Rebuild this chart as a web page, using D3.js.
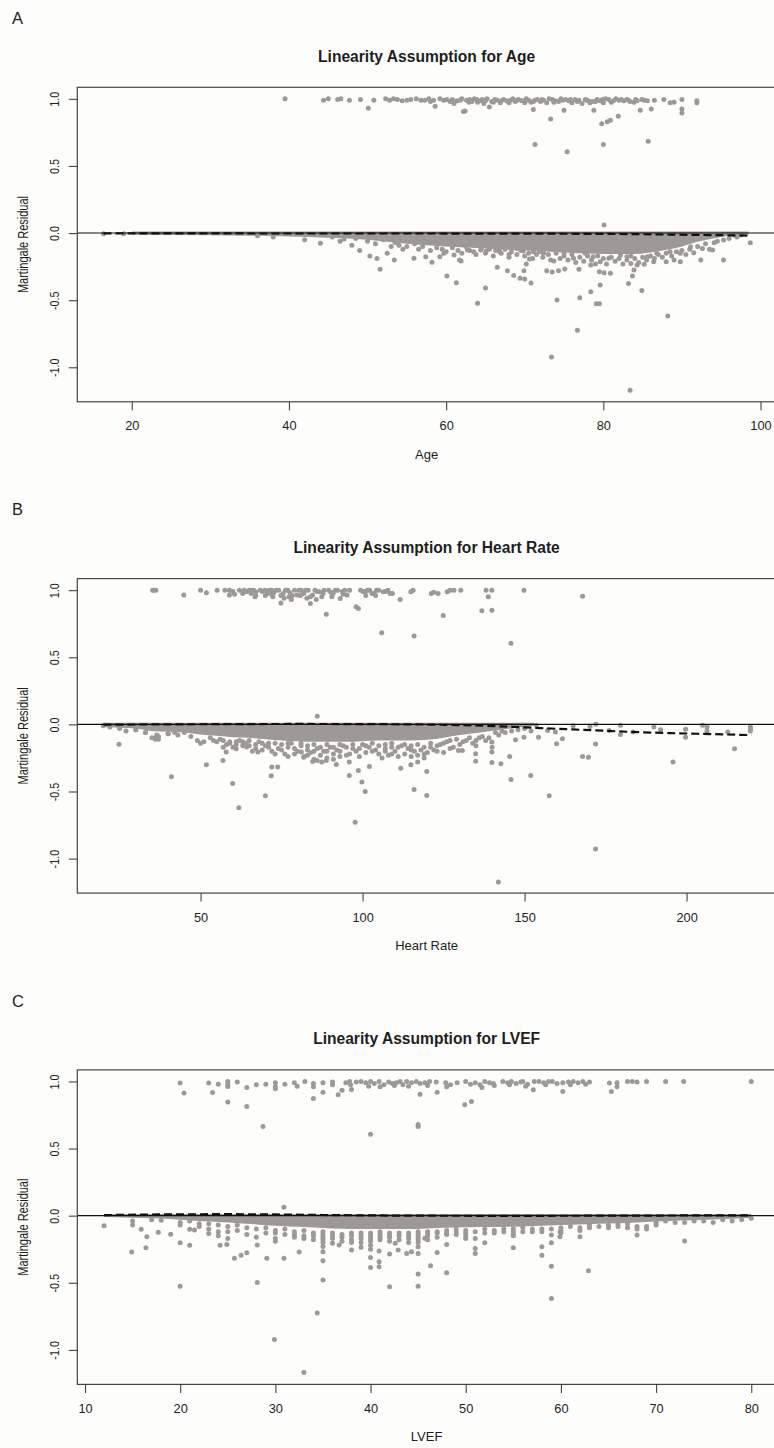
<!DOCTYPE html>
<html><head><meta charset="utf-8">
<script src="https://cdn.jsdelivr.net/npm/d3@7"></script>
<style>
body{margin:0;background:#fdfdfb}
text{font-family:"Liberation Sans",Arial,Helvetica,sans-serif;fill:#1e1e1e}
</style>
</head><body><svg id="c" width="774" height="1448"></svg>
<script>
// ---------- shared ----------
const yTicks = [-1.0, -0.5, 0.0, 0.5, 1.0];
const yLimits = [-1.257, 1.086];

// ---------- Panel A : Age ----------
const ageTicks = [20, 40, 60, 80, 100];
const ageLimits = [13.07, 101.97];
const ageEvents = [[39.5,1.0],[44.4,0.99],[45.0,1.0],[46.2,0.995],[46.6,1.0],[47.7,0.99],[49.1,0.995],[50.1,0.93],[50.8,0.99],[52.3,1.0],[52.8,0.99],[53.3,1.0],[53.8,0.995],[54.4,0.985],[55.0,0.99],[55.5,0.995],[56.2,1.0],[56.8,0.99],[57.3,0.99],[57.8,1.0],[58.0,0.98],[58.4,0.99],[58.6,0.945],[59.2,1.0],[59.7,0.99],[60.1,0.995],[60.5,0.98],[60.8,0.995],[61.0,0.965],[61.4,0.985],[61.8,0.99],[62.2,0.905],[62.4,0.91],[62.0,1.0],[62.6,0.99],[62.9,0.975],[63.0,0.995],[63.3,0.98],[63.6,1.0],[63.9,0.995],[64.0,0.975],[64.3,0.985],[64.6,0.995],[64.8,0.965],[65.0,0.985],[65.2,1.0],[65.5,0.94],[65.8,0.98],[66.0,0.975],[66.2,0.995],[66.5,0.99],[66.9,0.97],[67.0,0.985],[67.3,0.995],[67.7,0.985],[68.0,0.97],[68.2,0.99],[68.5,1.0],[68.8,0.98],[69.0,0.99],[69.2,0.995],[69.6,0.985],[69.9,0.985],[70.0,0.97],[70.2,1.0],[70.5,0.99],[70.8,0.975],[71.1,0.92],[71.1,0.98],[71.3,0.99],[71.6,0.995],[72.0,0.98],[72.2,0.995],[72.4,0.99],[72.8,0.97],[73.3,0.85],[73.1,1.0],[73.5,0.995],[73.7,0.975],[73.9,0.985],[74.3,0.98],[74.6,1.0],[74.8,0.99],[75.0,0.915],[75.2,0.995],[75.6,0.985],[75.8,0.995],[76.0,0.97],[76.4,0.995],[76.7,0.98],[76.9,0.99],[77.3,0.965],[77.7,0.995],[77.9,0.99],[78.1,0.985],[78.3,0.97],[78.6,0.98],[78.8,0.915],[79.0,0.98],[79.2,0.995],[79.6,0.985],[79.8,0.815],[79.9,0.995],[80.0,0.97],[80.3,1.0],[80.5,0.83],[80.7,0.995],[80.9,0.84],[81.0,0.975],[81.3,0.985],[81.6,1.0],[81.9,0.87],[82.0,0.99],[82.3,0.995],[82.6,0.985],[83.0,0.995],[83.2,0.99],[83.4,0.98],[83.9,0.975],[84.1,0.995],[84.3,0.985],[84.7,0.915],[84.9,0.995],[85.2,0.99],[85.6,0.985],[86.1,0.925],[86.5,0.99],[87.7,0.995],[88.5,0.97],[89.0,0.975],[90.0,0.995],[90.0,0.925],[90.0,0.895],[91.9,0.985],[91.9,0.97],[71.3,0.66],[75.4,0.605],[80.0,0.66],[85.7,0.685],[80.1,0.06]];
const ageCensored = [[16.4,-0.005],[19.0,-0.005],[36,-0.02],[38,-0.03],[42.0,-0.05],[44.0,-0.075],[45.5,-0.03],[46.5,-0.06],[47,-0.045],[48.0,-0.09],[48.5,-0.04],[49.0,-0.13],[50,-0.06],[50.3,-0.17],[51,-0.08],[51.2,-0.19],[51.6,-0.27],[52,-0.05],[52.5,-0.15],[53.0,-0.1],[53.4,-0.2],[53.5,-0.07],[54,-0.09],[54.5,-0.12],[55,-0.1],[55.9,-0.188],[56,-0.08],[56.5,-0.12],[57,-0.1],[57.4,-0.176],[58,-0.13],[58.2,-0.218],[58.8,-0.11],[59.2,-0.176],[59.5,-0.12],[59.7,-0.151],[60,-0.14],[60.1,-0.32],[60.8,-0.11],[61.0,-0.164],[61.3,-0.37],[61.5,-0.13],[61.7,-0.201],[61.9,-0.208],[62,-0.15],[62.5,-0.1],[62.7,-0.126],[63,-0.13],[63.5,-0.139],[63.8,-0.16],[64.0,-0.523],[64.4,-0.126],[64.5,-0.11],[65,-0.15],[65.0,-0.409],[65.1,-0.134],[65.5,-0.12],[66,-0.17],[66.3,-0.13],[66.5,-0.255],[66.8,-0.139],[66.8,-0.114],[67,-0.15],[67.5,-0.12],[67.8,-0.28],[68.0,-0.159],[68,-0.18],[68.3,-0.14],[68.6,-0.317],[69,-0.16],[69.0,-0.114],[69.4,-0.337],[69.5,-0.13],[69.8,-0.134],[69.9,-0.28],[70,-0.17],[70.0,-0.342],[70.2,-0.231],[70.5,-0.15],[70.6,-0.193],[70.8,-0.372],[71,-0.19],[71.1,-0.139],[71.5,-0.16],[71.8,-0.126],[72,-0.14],[72.3,-0.18],[72.4,-0.151],[72.8,-0.28],[73,-0.16],[73.3,-0.2],[73.4,-0.923],[73.5,-0.29],[73.7,-0.208],[74,-0.15],[74.1,-0.499],[74.3,-0.28],[74.5,-0.19],[75,-0.17],[75.0,-0.151],[75.1,-0.268],[75.5,-0.2],[76,-0.16],[76.2,-0.188],[76.5,-0.22],[76.7,-0.724],[76.9,-0.27],[77,-0.18],[77.0,-0.481],[77.5,-0.21],[77.7,-0.151],[78,-0.17],[78.4,-0.437],[78.4,-0.238],[78.5,-0.2],[78.7,-0.176],[79,-0.23],[79.1,-0.526],[79.3,-0.17],[79.5,-0.526],[79.5,-0.288],[79.6,-0.387],[79.6,-0.213],[80,-0.19],[80.1,-0.295],[80.4,-0.23],[80.7,-0.188],[80.9,-0.3],[81,-0.18],[81.5,-0.21],[82,-0.19],[82.2,-0.164],[82.5,-0.23],[83,-0.2],[83.0,-0.176],[83.2,-0.375],[83.4,-1.171],[83.5,-0.226],[83.5,-0.17],[83.7,-0.32],[83.9,-0.275],[84,-0.19],[84.3,-0.238],[84.5,-0.22],[84.9,-0.427],[85,-0.18],[85.2,-0.233],[85.5,-0.2],[85.6,-0.176],[86,-0.17],[86.4,-0.213],[86.5,-0.19],[86.8,-0.151],[87,-0.16],[87.5,-0.18],[88,-0.15],[88.0,-0.213],[88.2,-0.618],[88.5,-0.139],[88.7,-0.17],[89.0,-0.201],[89.3,-0.14],[89.8,-0.213],[89.8,-0.151],[90,-0.13],[90.5,-0.16],[91,-0.12],[91.1,-0.102],[91.5,-0.146],[92,-0.1],[92.4,-0.201],[92.6,-0.114],[93,-0.08],[93.5,-0.12],[93.9,-0.126],[94.1,-0.072],[94.5,-0.06],[95.3,-0.052],[95.3,-0.201],[96,-0.04],[96.6,-0.015],[97,-0.03],[97.5,-0.015],[98.7,-0.072]];
const ageBand = [[20,-0.012],[25,-0.015],[35,-0.02],[40,-0.025],[45,-0.035],[50,-0.05],[55,-0.08],[60,-0.1],[65,-0.115],[70,-0.13],[75,-0.145],[80,-0.155],[84,-0.155],[87,-0.135],[90,-0.1],[92,-0.065],[94,-0.04],[96,-0.02],[98.5,-0.01]];
const ageSmooth = [[16.4,-0.002],[25,-0.002],[35,-0.003],[45,-0.003],[55,-0.003],[65,-0.004],[75,-0.005],[82,-0.007],[87,-0.01],[91,-0.013],[95,-0.016],[98.7,-0.019]];

// ---------- Panel B : Heart Rate ----------
const hrTicks = [50, 100, 150, 200];
const hrLimits = [11.95, 227.6];
const hrEvents = [[35.2,1.0],[35.6,1.0],[36.2,1.0],[44.8,0.963],[50.0,1.0],[51.8,0.98],[55.1,1.0],[57.5,1.0],[58.9,1.0],[58.9,0.963],[60.0,0.99],[60.5,0.97],[62.0,1.0],[63.0,0.975],[63.5,1.0],[64.2,0.988],[65.0,1.0],[65.6,1.0],[65.6,0.975],[66.3,1.0],[66.8,0.95],[67.0,0.988],[67.0,0.96],[68.4,1.0],[69.1,0.99],[69.8,1.0],[70.0,0.96],[70.5,0.975],[71.2,1.0],[71.9,1.0],[71.9,0.97],[72.3,0.95],[72.6,0.98],[73.3,1.0],[74.1,1.0],[74.8,0.905],[74.8,0.96],[75.5,0.975],[75.8,0.94],[76.2,1.0],[76.9,1.0],[77.3,0.95],[77.6,0.98],[78.0,0.93],[78.3,0.96],[79.0,1.0],[79.7,0.963],[80.4,1.0],[80.8,0.96],[81.1,1.0],[81.8,0.975],[82.5,1.0],[82.8,0.94],[83.2,1.0],[83.9,0.9],[83.9,0.95],[84.6,0.963],[85.3,1.0],[85.7,0.93],[86.0,0.99],[86.7,0.988],[87.4,0.95],[87.8,0.975],[88.1,1.0],[88.8,0.821],[89.5,1.0],[90.2,0.985],[90.5,0.95],[90.9,0.975],[91.6,1.0],[92.3,1.0],[93.1,0.938],[93.8,0.99],[94.0,0.97],[94.5,1.0],[95.2,0.963],[96.0,1.0],[98.0,0.876],[98.7,0.863],[99.4,1.0],[100.1,0.99],[100.8,0.988],[101.0,0.96],[101.5,1.0],[102.2,1.0],[102.9,0.975],[103.6,0.975],[104.0,0.96],[104.3,1.0],[105.0,1.0],[105.9,0.682],[106.4,0.988],[107.1,0.99],[107.8,1.0],[108.5,0.975],[109.2,0.975],[111.6,0.93],[114.9,0.988],[115.6,1.0],[115.9,0.659],[121.2,0.975],[122.0,0.985],[123.3,0.975],[124.9,0.811],[126.1,0.988],[127.0,1.0],[128.2,1.0],[130.3,1.0],[136.8,0.846],[138.1,1.0],[138.8,0.95],[139.9,1.0],[139.9,0.851],[145.8,0.604],[149.8,1.0],[167.9,0.955],[86.0,0.06]];
const hrCensored = [[20,-0.01],[22,-0.02],[25,-0.03],[30,-0.04],[33,-0.06],[36,-0.1],[36.5,-0.08],[37,-0.11],[40,-0.07],[42,-0.06],[44,-0.04],[24.8,-0.149],[41.0,-0.391],[51.8,-0.301],[56.9,-0.269],[57.9,-0.206],[59.9,-0.44],[61.8,-0.622],[61.0,-0.182],[64.2,-0.169],[67.7,-0.206],[70.0,-0.532],[72.0,-0.318],[73.8,-0.318],[71.8,-0.383],[81.1,-0.206],[81.8,-0.244],[84.6,-0.276],[86.0,-0.269],[87.4,-0.281],[88.8,-0.269],[91.9,-0.299],[95.9,-0.381],[95.9,-0.281],[97.7,-0.729],[98.7,-0.343],[99.8,-0.43],[100.8,-0.5],[102.1,-0.313],[111.8,-0.326],[114.9,-0.301],[117.0,-0.281],[115.9,-0.485],[119.8,-0.351],[119.8,-0.53],[129.6,-0.194],[130.8,-0.194],[134.9,-0.274],[134.9,-0.219],[139.9,-0.284],[139.9,-0.206],[139.9,-0.132],[142.7,-0.294],[141.9,-1.174],[145.8,-0.41],[145.4,-0.239],[147.2,-0.114],[151.9,-0.381],[149.8,-0.095],[157.6,-0.532],[159.9,-0.144],[161.7,-0.107],[167.9,-0.239],[169.7,-0.244],[171.9,-0.147],[171.9,-0.928],[195.8,-0.281],[214.8,-0.182],[153.6,-0.007],[154.3,-0.095],[157.1,-0.045],[159.5,-0.057],[165,-0.01],[170.2,-0.015],[172,-0.0],[176.1,-0.045],[179.6,-0.007],[179.6,-0.075],[183.5,-0.057],[189.9,-0.02],[192.0,-0.04],[199.7,-0.037],[199.7,-0.095],[204.9,-0.007],[206.3,-0.02],[206.3,-0.05],[212.7,-0.057],[219.7,-0.02],[219.7,-0.05],[219.7,-0.035],[27,-0.05],[30,-0.04],[33,-0.06],[35,-0.1],[36,-0.11],[37,-0.09],[40,-0.07],[43,-0.08],[45,-0.06],[47,-0.09],[49,-0.12],[50,-0.14],[51,-0.13],[53,-0.1],[54,-0.12],[56,-0.11],[58,-0.15],[59,-0.13],[60,-0.17],[62,-0.12],[63,-0.16],[64,-0.14],[66,-0.2],[67,-0.15],[68,-0.13],[70,-0.16],[71,-0.14],[72,-0.2],[74,-0.18],[75,-0.15],[76,-0.22],[77,-0.17],[78,-0.14],[80,-0.2],[81,-0.16],[82,-0.24],[83,-0.19],[84,-0.21],[85,-0.26],[86,-0.18],[87,-0.23],[88,-0.2],[89,-0.25],[90,-0.17],[91,-0.22],[92,-0.19],[93,-0.24],[94,-0.16],[96,-0.22],[97,-0.18],[98,-0.2],[100,-0.15],[101,-0.21],[102,-0.17],[104,-0.19],[105,-0.22],[106,-0.25],[107,-0.2],[108,-0.23],[109,-0.17],[110,-0.2],[112,-0.16],[113,-0.22],[114,-0.18],[115,-0.24],[116,-0.2],[117,-0.23],[118,-0.19],[119,-0.25],[120,-0.21],[121,-0.17],[122,-0.19],[124,-0.15],[125,-0.21],[126,-0.13],[128,-0.17],[130,-0.15],[132,-0.12],[134,-0.14],[136,-0.1],[138,-0.12],[140,-0.17],[142,-0.08],[144,-0.06],[146,-0.05],[148,-0.04],[150,-0.03],[152,-0.05],[55,-0.13],[57,-0.12],[57,-0.17],[59,-0.14],[61,-0.13],[61,-0.15],[63,-0.13],[65,-0.16],[65,-0.12],[67,-0.18],[69,-0.14],[69,-0.19],[71,-0.17],[73,-0.14],[73,-0.22],[75,-0.19],[77,-0.14],[77,-0.24],[79,-0.18],[79,-0.22],[81,-0.14],[83,-0.16],[83,-0.23],[85,-0.15],[85,-0.2],[87,-0.17],[89,-0.15],[89,-0.2],[91,-0.17],[91,-0.26],[93,-0.15],[93,-0.2],[95,-0.17],[95,-0.23],[97,-0.15],[99,-0.18],[99,-0.24],[101,-0.16],[103,-0.14],[103,-0.2],[105,-0.16],[107,-0.15],[107,-0.18],[109,-0.14],[109,-0.22],[111,-0.17],[111,-0.24],[113,-0.15],[115,-0.16],[115,-0.19],[117,-0.15],[119,-0.17],[119,-0.22],[121,-0.14],[123,-0.16],[123,-0.2],[125,-0.14],[127,-0.12],[127,-0.18],[129,-0.11],[131,-0.13],[133,-0.1],[135,-0.12],[135,-0.16],[137,-0.09],[139,-0.1],[141,-0.06],[143,-0.05]];
const hrBand = [[20,-0.02],[25,-0.025],[30,-0.03],[35,-0.05],[40,-0.055],[45,-0.06],[50,-0.075],[55,-0.085],[60,-0.095],[65,-0.1],[70,-0.11],[75,-0.12],[80,-0.125],[85,-0.13],[90,-0.13],[95,-0.13],[100,-0.125],[105,-0.12],[110,-0.12],[115,-0.12],[120,-0.115],[125,-0.1],[130,-0.08],[135,-0.065],[140,-0.048],[145,-0.032],[150,-0.02],[153,-0.01]];
const hrSmooth = [[20,-0.002],[40,0.0],[60,0.002],[80,0.003],[100,0.002],[115,0.0],[125,-0.003],[135,-0.008],[145,-0.017],[155,-0.028],[165,-0.038],[175,-0.048],[185,-0.058],[195,-0.065],[205,-0.071],[215,-0.077],[220,-0.08]];

// ---------- Panel C : LVEF ----------
const lvefTicks = [10, 20, 30, 40, 50, 60, 70, 80];
const lvefLimits = [9.19, 82.6];
const lvefEvents = [[20.0,0.988],[20.4,0.913],[23.0,0.988],[23.4,0.918],[24.0,0.98],[25.0,1.0],[25.0,0.975],[25.0,0.963],[25.0,0.846],[26.0,0.995],[27.0,0.813],[27.0,0.955],[28.0,0.975],[28.7,0.664],[29.0,0.98],[30.0,0.99],[30.0,0.96],[30.0,0.945],[31.0,0.98],[32.0,0.99],[32.3,0.965],[33.1,1.0],[34.0,0.96],[34.0,0.873],[34.0,0.985],[35.0,0.99],[35.0,0.92],[36.0,0.995],[36.0,0.975],[36.6,0.9],[37.0,0.935],[37.4,0.99],[37.8,1.0],[37.9,0.975],[38.0,0.94],[38.5,0.995],[39.0,1.0],[39.5,0.99],[39.8,0.965],[40.0,1.0],[40.0,0.607],[40.4,0.985],[40.9,1.0],[41.0,0.96],[41.4,0.975],[41.9,0.995],[42.3,0.985],[42.5,0.97],[42.7,0.99],[43.1,1.0],[43.4,0.975],[43.8,1.0],[44.0,0.965],[44.3,0.99],[44.8,1.0],[45.0,0.679],[45.0,0.664],[45.2,0.905],[45.2,0.985],[45.7,0.99],[46.0,0.97],[46.2,1.0],[46.9,0.995],[47.0,0.92],[47.9,0.99],[48.0,0.96],[48.4,0.975],[49.1,0.99],[49.9,0.826],[50.0,1.0],[50.6,0.85],[50.5,0.98],[51.0,0.99],[51.5,0.975],[51.7,0.955],[52.0,1.0],[52.5,0.99],[52.9,0.985],[53.0,0.97],[53.9,1.0],[54.4,0.99],[54.6,0.975],[54.8,1.0],[55.3,0.985],[55.8,0.995],[56.0,1.0],[56.3,0.965],[56.5,0.98],[57.1,0.938],[57.2,1.0],[57.7,1.0],[58.2,0.99],[58.4,0.975],[58.7,1.0],[59.1,1.0],[59.6,0.985],[60.2,0.925],[60.2,0.99],[60.8,0.995],[61.0,0.975],[61.3,1.0],[61.8,0.99],[62.3,1.0],[62.6,0.98],[63.0,0.995],[65.1,0.988],[65.3,0.925],[65.9,0.99],[65.9,0.96],[67.0,1.0],[67.5,1.0],[68.0,0.995],[69.0,1.0],[71.0,1.0],[72.9,1.0],[80.0,1.0],[30.9,0.062]];
const lvefCensored = [[12.0,-0.075],[14.9,-0.271],[15.9,-0.102],[16.5,-0.157],[16.4,-0.239],[17.7,-0.124],[19.0,-0.139],[20.0,-0.201],[20.0,-0.525],[21.0,-0.102],[21.0,-0.221],[21.5,-0.107],[23.0,-0.132],[24.2,-0.221],[24.9,-0.214],[25.7,-0.318],[26.4,-0.294],[27.0,-0.276],[28.1,-0.498],[28.1,-0.219],[29.1,-0.318],[29.9,-0.923],[30.9,-0.318],[32.5,-0.271],[33.0,-1.169],[34.4,-0.726],[35.0,-0.48],[35.0,-0.336],[35.0,-0.269],[36.0,-0.206],[36.7,-0.219],[38.0,-0.256],[39.0,-0.236],[40.0,-0.311],[40.0,-0.386],[40.9,-0.343],[40.9,-0.381],[40.9,-0.264],[42.0,-0.53],[42.0,-0.286],[42.6,-0.206],[42.9,-0.256],[43.8,-0.281],[44.3,-0.269],[45.0,-0.281],[45.0,-0.231],[45.0,-0.435],[45.0,-0.525],[45.7,-0.169],[46.3,-0.373],[47.0,-0.274],[48.0,-0.425],[48.0,-0.214],[51.0,-0.244],[51.0,-0.281],[52.0,-0.201],[55.0,-0.239],[58.0,-0.231],[58.0,-0.294],[59.0,-0.144],[59.0,-0.201],[59.0,-0.376],[59.0,-0.617],[59.9,-0.119],[59.9,-0.157],[62.0,-0.157],[62.9,-0.41],[68.0,-0.144],[73.0,-0.189],[15,-0.04],[15,-0.07],[17,-0.03],[18,-0.035],[20,-0.05],[20,-0.07],[21,-0.04],[22,-0.06],[22,-0.08],[23,-0.06],[23,-0.1],[24,-0.07],[24,-0.12],[24,-0.15],[25,-0.08],[25,-0.12],[25,-0.17],[26,-0.07],[26,-0.11],[27,-0.09],[27,-0.14],[28,-0.1],[28,-0.16],[29,-0.09],[29,-0.13],[30,-0.11],[30,-0.17],[30,-0.19],[31,-0.1],[31,-0.14],[32,-0.12],[32,-0.16],[33,-0.11],[33,-0.15],[34,-0.13],[34,-0.18],[35,-0.12],[35,-0.16],[35,-0.2],[36,-0.13],[36,-0.17],[37,-0.14],[37,-0.19],[38,-0.13],[38,-0.18],[39,-0.15],[39,-0.2],[40,-0.13],[40,-0.17],[40,-0.22],[41,-0.14],[41,-0.18],[42,-0.13],[42,-0.16],[43,-0.15],[44,-0.13],[44,-0.17],[45,-0.14],[45,-0.18],[46,-0.12],[46,-0.15],[47,-0.13],[48,-0.11],[48,-0.14],[49,-0.12],[50,-0.11],[50,-0.15],[51,-0.12],[51,-0.17],[52,-0.1],[53,-0.11],[54,-0.1],[55,-0.12],[55,-0.15],[56,-0.09],[57,-0.1],[58,-0.12],[59,-0.1],[60,-0.09],[61,-0.08],[62,-0.09],[63,-0.07],[64,-0.08],[65,-0.07],[66,-0.06],[67,-0.09],[68,-0.1],[69,-0.08],[70,-0.05],[71,-0.04],[72,-0.05],[74,-0.04],[76,-0.05],[77,-0.03],[79,-0.03],[80,-0.02],[30,-0.13],[32,-0.14],[33,-0.17],[34,-0.15],[35,-0.14],[35,-0.18],[35,-0.23],[36,-0.15],[37,-0.16],[38,-0.15],[38,-0.2],[39,-0.13],[39,-0.17],[40,-0.15],[40,-0.19],[40,-0.25],[41,-0.12],[41,-0.16],[42,-0.15],[42,-0.19],[43,-0.13],[43,-0.18],[44,-0.15],[44,-0.2],[45,-0.12],[45,-0.16],[45,-0.2],[46,-0.13],[46,-0.18],[47,-0.12],[47,-0.16],[48,-0.13],[49,-0.1],[49,-0.14],[50,-0.13],[50,-0.17],[52,-0.13],[53,-0.13],[54,-0.12],[55,-0.1],[55,-0.14],[56,-0.12],[57,-0.12],[58,-0.1],[60,-0.11],[60,-0.13],[62,-0.11],[63,-0.09],[65,-0.09],[66,-0.08],[67,-0.06],[68,-0.08],[69,-0.1],[70,-0.07],[73,-0.05],[75,-0.04],[78,-0.04]];
const lvefBand = [[12,-0.01],[15,-0.015],[17,-0.02],[20,-0.03],[22,-0.04],[25,-0.05],[28,-0.065],[30,-0.075],[33,-0.085],[36,-0.095],[40,-0.1],[44,-0.1],[48,-0.09],[52,-0.085],[56,-0.08],[60,-0.07],[64,-0.06],[68,-0.05],[72,-0.038],[76,-0.028],[80,-0.015]];
const lvefSmooth = [[12,0.004],[16,0.008],[20,0.01],[25,0.011],[30,0.009],[35,0.005],[40,0.002],[45,0.0],[55,-0.001],[65,0.0],[75,0.002],[80,0.003]];

// ---------- drawing ----------
const PT = "#9d9998";
const svg = d3.select("#c");
svg.append("rect").attr("width", 774).attr("height", 1448).attr("fill", "#fdfdfb");

const L = 77.3, R = 776, PH = 314.5, GAP = 491.3, T0 = 87.3;
const panels = [
  {letter:"A", title:"Linearity Assumption for Age", xlab:"Age", lim:ageLimits, ticks:ageTicks, band:ageBand, ev:ageEvents, ce:ageCensored, sm:ageSmooth},
  {letter:"B", title:"Linearity Assumption for Heart Rate", xlab:"Heart Rate", lim:hrLimits, ticks:hrTicks, band:hrBand, ev:hrEvents, ce:hrCensored, sm:hrSmooth},
  {letter:"C", title:"Linearity Assumption for LVEF", xlab:"LVEF", lim:lvefLimits, ticks:lvefTicks, band:lvefBand, ev:lvefEvents, ce:lvefCensored, sm:lvefSmooth}
];

panels.forEach((p, i) => {
  const top = T0 + i * GAP, bot = top + PH;
  const x = d3.scaleLinear().domain(p.lim).range([L, R]);
  const y = d3.scaleLinear().domain(yLimits).range([bot, top]);
  const g = svg.append("g");

  // dense overplotted core of the residual cloud
  g.append("path").datum(p.band)
    .attr("fill", PT)
    .attr("d", d3.area().x(d => x(d[0])).y0(() => y(0.012)).y1(d => y(d[1])).curve(d3.curveMonotoneX));

  g.selectAll("circle.ce").data(p.ce).join("circle").attr("class","ce")
    .attr("cx", d => x(d[0])).attr("cy", d => y(d[1])).attr("r", 2.5).attr("fill", PT);
  g.selectAll("circle.ev").data(p.ev).join("circle").attr("class","ev")
    .attr("cx", d => x(d[0])).attr("cy", d => y(d[1])).attr("r", 2.5).attr("fill", PT);

  // zero reference line
  g.append("line").attr("x1", L).attr("x2", R).attr("y1", y(0)).attr("y2", y(0))
    .attr("stroke", "#111").attr("stroke-width", 1.1);

  // lowess smooth (dashed)
  g.append("path").datum(p.sm)
    .attr("fill", "none").attr("stroke", "#111").attr("stroke-width", 2.2)
    .attr("stroke-dasharray", "8,4")
    .attr("d", d3.line().x(d => x(d[0])).y(d => y(d[1])).curve(d3.curveMonotoneX));

  // box
  g.append("rect").attr("x", L).attr("y", top).attr("width", R - L).attr("height", PH)
    .attr("fill", "none").attr("stroke", "#444").attr("stroke-width", 1.2);

  // x axis
  const xa = g.append("g").attr("transform", `translate(0,${bot})`)
    .call(d3.axisBottom(x).tickValues(p.ticks).tickSize(8.5).tickFormat(d => String(d)));
  xa.select(".domain").remove();
  xa.selectAll(".tick line").attr("stroke", "#444").attr("stroke-width", 1.1);
  xa.selectAll(".tick text").attr("y", 28.5).attr("dy", 0)
    .style("font-size", "12.8px").style("font-family", '"Liberation Sans",Arial,sans-serif').attr("fill", "#1e1e1e");

  // y axis
  const ya = g.append("g").attr("transform", `translate(${L},0)`)
    .call(d3.axisLeft(y).tickValues(yTicks).tickSize(8.5).tickFormat(d => d.toFixed(1)));
  ya.select(".domain").remove();
  ya.selectAll(".tick line").attr("stroke", "#444").attr("stroke-width", 1.1);
  ya.selectAll(".tick text").attr("x", 0).attr("y", -14.6).attr("dy", 0)
    .attr("text-anchor", "middle").attr("transform", "rotate(-90) scale(1,1.25)")
    .style("font-size", "10.8px").style("font-family", '"Liberation Sans",Arial,sans-serif').attr("fill", "#1e1e1e");

  // labels
  g.append("text").attr("x", (L + R) / 2).attr("y", top - 25.6).attr("text-anchor", "middle")
    .style("font-size", "15.6px").style("font-weight", "bold").text(p.title);
  g.append("text").attr("x", (L + R) / 2).attr("y", bot + 57).attr("text-anchor", "middle")
    .style("font-size", "13px").text(p.xlab);
  g.append("text").attr("transform", `translate(28.3,${(top + bot) / 2}) rotate(-90) scale(1,1.25)`)
    .attr("text-anchor", "middle").style("font-size", "11px").text("Martingale Residual");
  g.append("text").attr("x", 12).attr("y", top - 63.3)
    .style("font-size", "16.5px").text(p.letter);
});
</script>
</body></html>
